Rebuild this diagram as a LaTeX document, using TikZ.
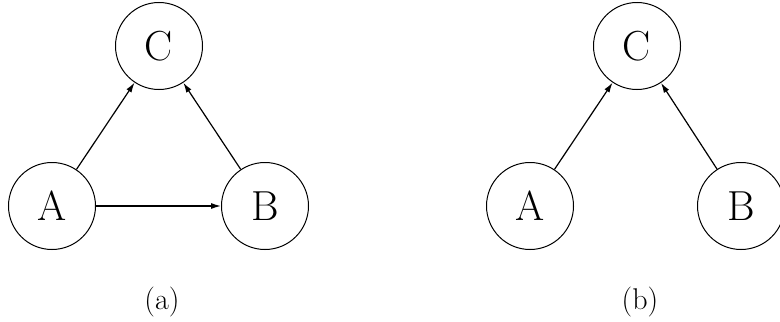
\documentclass[tikz,border=0pt]{standalone}
\usetikzlibrary{arrows.meta}
\begin{document}
\begin{tikzpicture}[x=0.5pt, y=-0.5pt, >={Latex[length=5pt,width=3pt]}, line width=0.6pt,
  vertex/.style={draw, circle, line width=0.5pt, minimum size=43.5pt, inner sep=0pt, font=\fontsize{21}{25}\selectfont},
  caption/.style={font=\fontsize{15}{18}\selectfont}]
\useasboundingbox (0,0) rectangle (780,321);
% (a)
\node[vertex] (ca) at (159,46) {C};
\node[vertex] (aa) at (52,206) {A};
\node[vertex] (ba) at (265,206) {B};
\node[caption] (la) at (162,302) {(a)};
\draw[->] (aa) -- (ca);
\draw[->] (ba) -- (ca);
\draw[->] (aa) -- (ba);
% (b)
\node[vertex] (cb) at (637,46) {C};
\node[vertex] (ab) at (530,206) {A};
\node[vertex] (bb) at (741,206) {B};
\node[caption] (lb) at (640,302) {(b)};
\draw[->] (ab) -- (cb);
\draw[->] (bb) -- (cb);
\end{tikzpicture}
\end{document}
